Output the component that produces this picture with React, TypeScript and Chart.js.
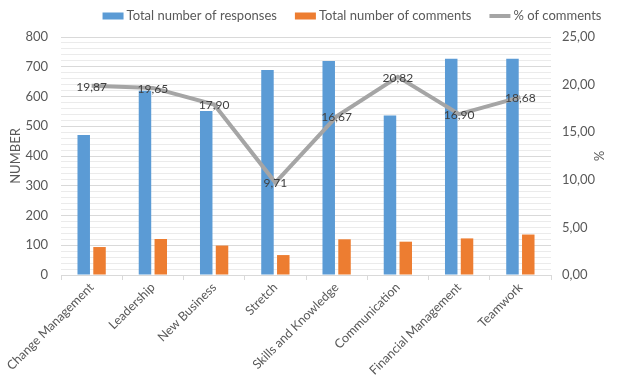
import React, { useEffect, useRef } from "react";
import { Chart, registerables } from "chart.js";

Chart.register(...registerables);

const categories = [
  "Change Management",
  "Leadership",
  "New Business",
  "Stretch",
  "Skills and Knowledge",
  "Communication",
  "Financial Management",
  "Teamwork",
];
const responses = [471, 619, 551, 689, 719, 536, 727, 727];
const comments = [94, 121, 99, 67, 120, 112, 123, 136];
const percentComments = [19.87, 19.65, 17.9, 9.71, 16.67, 20.82, 16.9, 18.68];
const seriesNames = ["Total number of responses", "Total number of comments", "% of comments"];
const leftTitle = "NUMBER";
const rightTitle = "%";

const BLUE = "#5B9BD5";
const ORANGE = "#ED7D31";
const GREY = "#A5A5A5";
const TEXT = "#595959";
const FONT = "Lato, 'DejaVu Sans', sans-serif";

const fmt = (v: number) => v.toFixed(2).replace(".", ",");

const labelPlugin = {
  id: "lineLabels",
  afterDatasetsDraw(chart: any) {
    const meta = chart.getDatasetMeta(2);
    const ctx = chart.ctx;
    ctx.save();
    ctx.font = `12px ${FONT}`;
    ctx.fillStyle = "#404040";
    ctx.textAlign = "center";
    ctx.textBaseline = "middle";
    meta.data.forEach((pt: any, i: number) => {
      ctx.fillText(fmt(percentComments[i]), pt.x, pt.y + 1);
    });
    ctx.restore();
  },
};

const legendPlugin = {
  id: "customLegend",
  afterDraw(chart: any) {
    const ctx = chart.ctx;
    ctx.save();
    ctx.font = `13px ${FONT}`;
    ctx.textBaseline = "middle";
    ctx.textAlign = "left";
    const y = 16;
    const boxW = 21;
    const gap = 3;
    const itemGap = 18;
    const widths = seriesNames.map((n) => boxW + gap + ctx.measureText(n).width);
    const total = widths.reduce((a, b) => a + b, 0) + itemGap * (seriesNames.length - 1);
    let x = 352 - total / 2;
    const colors = [BLUE, ORANGE, GREY];
    seriesNames.forEach((n, i) => {
      if (i < 2) {
        ctx.fillStyle = colors[i];
        ctx.fillRect(x, y - 3.5, boxW, 7);
      } else {
        ctx.strokeStyle = colors[i];
        ctx.lineWidth = 4;
        ctx.beginPath();
        ctx.moveTo(x, y);
        ctx.lineTo(x + boxW, y);
        ctx.stroke();
      }
      ctx.fillStyle = TEXT;
      ctx.fillText(n, x + boxW + gap, y);
      x += widths[i] + itemGap;
    });
    ctx.restore();
  },
};

export default function App() {
  const ref = useRef<HTMLCanvasElement>(null);
  useEffect(() => {
    let chart: Chart | null = null;
    let cancelled = false;
    const make = () => {
      if (cancelled || !ref.current) return;
      chart = new Chart(ref.current, {
        type: "bar",
        data: {
          labels: categories,
          datasets: [
            {
              type: "bar",
              label: seriesNames[0],
              data: responses,
              backgroundColor: BLUE,
              yAxisID: "y",
              order: 1,
              categoryPercentage: 0.516,
              barPercentage: 0.79,
            },
            {
              type: "bar",
              label: seriesNames[1],
              data: comments,
              backgroundColor: ORANGE,
              yAxisID: "y",
              order: 1,
              categoryPercentage: 0.516,
              barPercentage: 0.79,
            },
            {
              type: "line",
              label: seriesNames[2],
              data: percentComments,
              borderColor: GREY,
              borderWidth: 4,
              pointRadius: 0,
              yAxisID: "y1",
              order: 0,
              tension: 0,
            },
          ] as any,
        },
        options: {
          animation: false,
          responsive: true,
          maintainAspectRatio: false,
          layout: { padding: { top: 37, left: 0, right: 0, bottom: 0 } },
          plugins: {
            legend: { display: false },
            tooltip: { enabled: false },
          },
          scales: {
            x: {
              offset: true,
              grid: {
                offset: true,
                drawOnChartArea: false,
                drawTicks: true,
                tickLength: 5,
                color: "#D9D9D9",
              },
              border: { display: true, color: "#D9D9D9" },
              ticks: {
                color: TEXT,
                font: { family: FONT, size: 12.5 },
                maxRotation: 45,
                minRotation: 45,
                autoSkip: false,
                padding: 0,
              },
              afterFit: (s: any) => {
                s.height = 103;
              },
            },
            y: {
              position: "left",
              min: 0,
              max: 800,
              grid: {
                drawTicks: false,
                color: (c: any) => (c.tick && c.tick.value % 100 === 0 ? "#D9D9D9" : "#EBEBEB"),
              },
              border: { display: false },
              ticks: {
                stepSize: 20,
                autoSkip: false,
                color: TEXT,
                padding: 13,
                font: { family: FONT, size: 13 },
                callback: (v: any) => (Number(v) % 100 === 0 ? String(v) : ""),
              },
              title: {
                display: true,
                text: leftTitle,
                color: TEXT,
                font: { family: FONT, size: 13 },
                padding: { top: 8, bottom: 0 },
              },
              afterFit: (s: any) => {
                s.width = 61;
              },
            },
            y1: {
              position: "right",
              min: 0,
              max: 25,
              grid: { drawOnChartArea: false, drawTicks: false },
              border: { display: false },
              ticks: {
                stepSize: 5,
                color: TEXT,
                padding: 11,
                font: { family: FONT, size: 13 },
                callback: (v: any) => fmt(Number(v)),
              },
              title: {
                display: true,
                text: rightTitle,
                color: TEXT,
                font: { family: FONT, size: 13 },
                padding: { top: 19, bottom: 0 },
              },
              afterFit: (s: any) => {
                s.width = 74;
              },
            },
          },
        },
        plugins: [labelPlugin, legendPlugin],
      });
    };
    if ((document as any).fonts && (document as any).fonts.load) {
      Promise.all([
        (document as any).fonts.load(`12px Lato`),
        (document as any).fonts.load(`13px Lato`),
      ])
        .catch(() => null)
        .then(make);
    } else {
      make();
    }
    return () => {
      cancelled = true;
      if (chart) chart.destroy();
    };
  }, []);
  return (
    <div style={{ position: "fixed", left: 0, top: 0, width: 625, height: 378, background: "#fff" }}>
      <canvas ref={ref} />
    </div>
  );
}
